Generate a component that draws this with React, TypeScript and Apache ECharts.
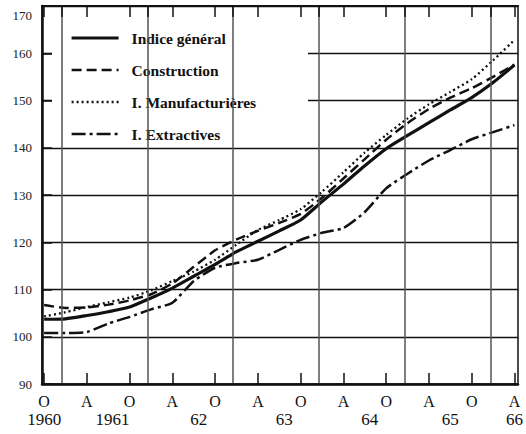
import React, { useEffect, useRef } from 'react';
import * as echarts from 'echarts';

// Time in months, 0 = October 1960
const T = [0, 3, 6, 9, 12, 15, 18, 21, 24, 27, 30, 33, 36, 39, 42, 45, 48, 51, 54, 57, 60, 63, 66];

const GENERAL = [103.7, 103.8, 104.5, 105.3, 106.3, 108.2, 110.3, 112.8, 115.3, 118.0, 120.2, 122.4, 124.7, 128.6, 132.3, 136.2, 139.8, 142.6, 145.3, 148.0, 150.6, 153.8, 157.5];
const CONSTRUCTION = [106.7, 106.1, 106.2, 106.8, 107.7, 109.0, 111.3, 114.8, 118.3, 120.6, 122.4, 124.1, 126.0, 129.4, 133.5, 137.6, 141.7, 145.2, 148.2, 150.6, 152.6, 155.0, 157.6];
const MANUF = [104.3, 105.2, 106.3, 107.3, 108.3, 109.8, 111.8, 113.8, 116.3, 119.5, 122.6, 124.7, 127.0, 130.7, 134.8, 139.0, 142.7, 146.2, 149.2, 151.8, 154.5, 158.5, 162.8];
const EXTRACT = [100.8, 100.8, 101.0, 102.8, 104.2, 105.8, 107.2, 111.8, 114.6, 115.6, 116.3, 118.4, 120.5, 122.0, 123.0, 126.4, 131.4, 134.5, 137.3, 139.5, 141.8, 143.3, 144.8];

const SERIES_NAMES = ['Indice général', 'Construction', 'I. Manufacturières', 'I. Extractives'];

const TICK_T = [0, 6, 12, 18, 24, 30, 36, 42, 48, 54, 60, 66];
const TICK_LABELS = ['O', 'A', 'O', 'A', 'O', 'A', 'O', 'A', 'O', 'A', 'O', 'A'];
const YEAR_T = [0, 9.6, 21.7, 33.7, 45.7, 57.0, 66];
const YEAR_LABELS = ['1960', '1961', '62', '63', '64', '65', '66'];
const YEAR_GRID_T = [2.5, 14.5, 26.5, 38.5, 50.6, 62.7];

const Y_MIN = 90;
const Y_MAX = 170;
const Y_STEP = 10;

const FONT = "'Liberation Serif', 'Times New Roman', serif";

export default function App() {
  const ref = useRef<HTMLDivElement>(null);
  useEffect(() => {
    document.body.style.margin = '0';
    const chart = echarts.init(ref.current!, null, { renderer: 'svg' });
    const pair = (arr: number[]) => arr.map((v, i) => [T[i], v]);
    const black = '#111';
    const widths = [3.2, 2.5, 2.3, 2.5];
    chart.setOption({
      animation: false,
      backgroundColor: '#fff',
      grid: {
        left: 42, right: 8, top: 6, bottom: 50,
        show: true, borderColor: black, borderWidth: 1.5,
        outerBoundsMode: 'none',
      },
      xAxis: [
        {
          type: 'value', position: 'bottom', min: -0.3, max: 66.5, z: 10,
          axisLine: { show: true, onZero: false, lineStyle: { color: black, width: 2.5 } },
          axisTick: { show: true, inside: true, length: 11, customValues: TICK_T, lineStyle: { color: black, width: 1.5 } },
          axisLabel: {
            show: true, customValues: TICK_T, margin: 9,
            formatter: (v: number) => TICK_LABELS[TICK_T.indexOf(v)] ?? '',
            fontFamily: FONT, fontSize: 16, color: black,
          },
          splitLine: { show: false },
        },
        {
          type: 'value', position: 'bottom', min: -0.3, max: 66.5, offset: 0,
          axisLine: { show: false },
          axisTick: { show: false },
          axisLabel: {
            show: true, customValues: YEAR_T, margin: 27,
            formatter: (v: number) => YEAR_LABELS[YEAR_T.indexOf(v)] ?? '',
            fontFamily: FONT, fontSize: 17, color: black,
          },
          splitLine: { show: false },
        },
        {
          type: 'value', position: 'top', min: -0.3, max: 66.5, z: 10,
          axisLine: { show: true, onZero: false, lineStyle: { color: black, width: 2 } },
          axisTick: { show: true, inside: true, length: 11, customValues: [...TICK_T, ...YEAR_GRID_T], lineStyle: { color: black, width: 1.5 } },
          axisLabel: { show: false },
          splitLine: { show: false },
        },
      ],
      yAxis: {
        type: 'value', min: Y_MIN, max: Y_MAX, interval: Y_STEP,
        axisLine: { show: true, onZero: false, lineStyle: { color: black, width: 2.5 } },
        axisTick: { show: true, inside: true, length: 10, lineStyle: { color: black, width: 1.5 } },
        axisLabel: {
          margin: 10, padding: [0, 0, 10, 0],
          formatter: (v: number) => (v === Y_MAX ? '' : String(v)),
          fontFamily: FONT, fontSize: 13, color: '#222',
        },
        splitLine: { show: true, lineStyle: { color: black, width: 1.4 } },
      },
      graphic: [
        { type: 'rect', z: 3, silent: true, shape: { x: 52, y: 17, width: 256, height: 128 }, style: { fill: '#fff' } },
        { type: 'text', z: 10, silent: true, x: 32, y: 15, style: { text: String(Y_MAX), fontFamily: FONT, fontSize: 13, fill: '#222', align: 'right', verticalAlign: 'middle' } },
      ],
      legend: {
        orient: 'vertical', left: 70, top: 30, padding: 0, z: 5,
        itemWidth: 47, itemHeight: 14, itemGap: 16,
        itemStyle: { opacity: 0, borderWidth: 0 },
        textStyle: { fontFamily: FONT, fontWeight: 'bold', fontSize: 15.5, color: black, padding: [0, 0, 0, 8] },
        data: SERIES_NAMES.map((name, i) => ({
          name,
          itemStyle: { opacity: 0, borderWidth: 0 },
          lineStyle: { width: widths[i] },
        })),
      },
      series: [
        {
          name: SERIES_NAMES[0], type: 'line', data: pair(GENERAL), symbol: 'none', smooth: 0.2, z: 2,
          lineStyle: { color: black, width: widths[0] }, itemStyle: { color: black },
          markLine: {
            silent: true, symbol: 'none', label: { show: false },
            lineStyle: { color: '#555', width: 1.5, type: 'solid' },
            data: YEAR_GRID_T.map((x) => ({ xAxis: x })),
          },
        },
        {
          name: SERIES_NAMES[1], type: 'line', data: pair(CONSTRUCTION), symbol: 'none', smooth: 0.2, z: 2,
          lineStyle: { color: black, width: widths[1], type: [10, 5] }, itemStyle: { color: black },
        },
        {
          name: SERIES_NAMES[2], type: 'line', data: pair(MANUF), symbol: 'none', smooth: 0.2, z: 2,
          lineStyle: { color: black, width: widths[2], type: [2, 3] }, itemStyle: { color: black },
        },
        {
          name: SERIES_NAMES[3], type: 'line', data: pair(EXTRACT), symbol: 'none', smooth: 0.2, z: 2,
          lineStyle: { color: black, width: widths[3], type: [14, 4, 3, 4] }, itemStyle: { color: black },
        },
      ],
    });
    return () => chart.dispose();
  }, []);
  return <div ref={ref} style={{ width: 526, height: 434 }} />;
}
